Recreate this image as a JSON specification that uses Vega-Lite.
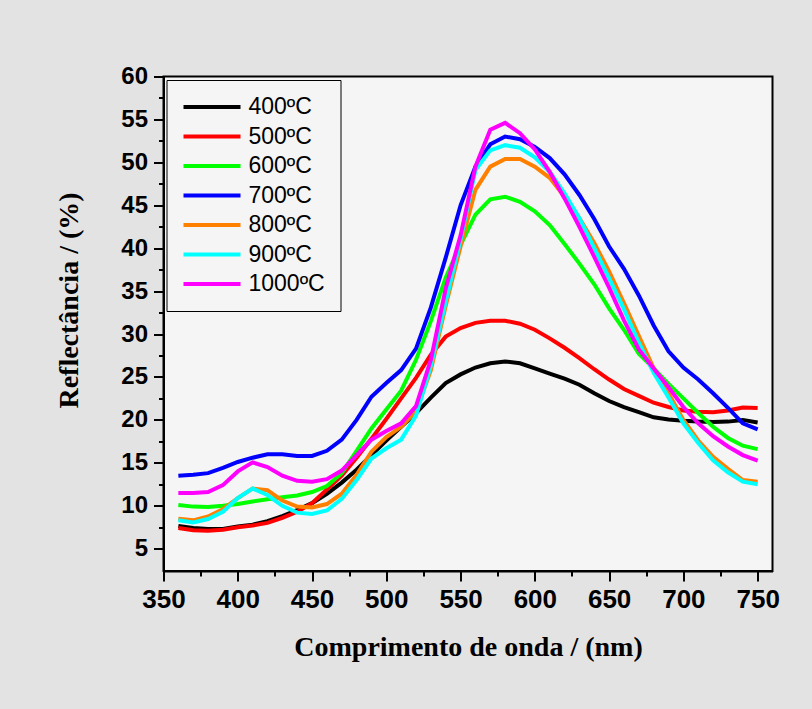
{
  "$schema": "https://vega.github.io/schema/vega-lite/v6.json",
  "autosize": {"type": "none"},
  "padding": {"left": 163.5, "top": 76.5, "right": 39.5, "bottom": 138},
  "width": 609,
  "height": 494.5,
  "background": "#e3e3e3",
  "config": {"view": {"stroke": "black", "strokeWidth": 2, "fill": "#f5f5f5"}},
  "datasets": {
    "d": [
      {"w":360,"t":"400ºC","r":7.65},{"w":370,"t":"400ºC","r":7.4},{"w":380,"t":"400ºC","r":7.3},{"w":390,"t":"400ºC","r":7.3},{"w":400,"t":"400ºC","r":7.6},{"w":410,"t":"400ºC","r":7.8},{"w":420,"t":"400ºC","r":8.2},{"w":430,"t":"400ºC","r":8.8},{"w":440,"t":"400ºC","r":9.5},{"w":450,"t":"400ºC","r":10.3},
      {"w":460,"t":"400ºC","r":11.4},{"w":470,"t":"400ºC","r":12.7},{"w":480,"t":"400ºC","r":14.2},{"w":490,"t":"400ºC","r":15.9},{"w":500,"t":"400ºC","r":17.6},{"w":510,"t":"400ºC","r":19.2},{"w":520,"t":"400ºC","r":20.8},{"w":530,"t":"400ºC","r":22.6},{"w":540,"t":"400ºC","r":24.3},{"w":550,"t":"400ºC","r":25.3},
      {"w":560,"t":"400ºC","r":26.1},{"w":570,"t":"400ºC","r":26.6},{"w":580,"t":"400ºC","r":26.8},{"w":590,"t":"400ºC","r":26.6},{"w":600,"t":"400ºC","r":26.0},{"w":610,"t":"400ºC","r":25.4},{"w":620,"t":"400ºC","r":24.8},{"w":630,"t":"400ºC","r":24.1},{"w":640,"t":"400ºC","r":23.1},{"w":650,"t":"400ºC","r":22.2},
      {"w":660,"t":"400ºC","r":21.5},{"w":670,"t":"400ºC","r":20.9},{"w":680,"t":"400ºC","r":20.3},{"w":690,"t":"400ºC","r":20.05},{"w":700,"t":"400ºC","r":19.9},{"w":710,"t":"400ºC","r":19.8},{"w":720,"t":"400ºC","r":19.75},{"w":730,"t":"400ºC","r":19.8},{"w":740,"t":"400ºC","r":20.0},{"w":750,"t":"400ºC","r":19.7},

      {"w":360,"t":"500ºC","r":7.4},{"w":370,"t":"500ºC","r":7.15},{"w":380,"t":"500ºC","r":7.1},{"w":390,"t":"500ºC","r":7.2},{"w":400,"t":"500ºC","r":7.5},{"w":410,"t":"500ºC","r":7.7},{"w":420,"t":"500ºC","r":8.0},{"w":430,"t":"500ºC","r":8.6},{"w":440,"t":"500ºC","r":9.3},{"w":450,"t":"500ºC","r":10.3},
      {"w":460,"t":"500ºC","r":11.9},{"w":470,"t":"500ºC","r":13.5},{"w":480,"t":"500ºC","r":15.6},{"w":490,"t":"500ºC","r":17.8},{"w":500,"t":"500ºC","r":20.1},{"w":510,"t":"500ºC","r":22.5},{"w":520,"t":"500ºC","r":24.9},{"w":530,"t":"500ºC","r":27.6},{"w":540,"t":"500ºC","r":29.7},{"w":550,"t":"500ºC","r":30.7},
      {"w":560,"t":"500ºC","r":31.3},{"w":570,"t":"500ºC","r":31.55},{"w":580,"t":"500ºC","r":31.55},{"w":590,"t":"500ºC","r":31.2},{"w":600,"t":"500ºC","r":30.5},{"w":610,"t":"500ºC","r":29.5},{"w":620,"t":"500ºC","r":28.4},{"w":630,"t":"500ºC","r":27.2},{"w":640,"t":"500ºC","r":25.9},{"w":650,"t":"500ºC","r":24.7},
      {"w":660,"t":"500ºC","r":23.6},{"w":670,"t":"500ºC","r":22.8},{"w":680,"t":"500ºC","r":22.0},{"w":690,"t":"500ºC","r":21.5},{"w":700,"t":"500ºC","r":21.1},{"w":710,"t":"500ºC","r":20.95},{"w":720,"t":"500ºC","r":20.9},{"w":730,"t":"500ºC","r":21.1},{"w":740,"t":"500ºC","r":21.45},{"w":750,"t":"500ºC","r":21.4},

      {"w":360,"t":"600ºC","r":10.1},{"w":370,"t":"600ºC","r":9.9},{"w":380,"t":"600ºC","r":9.85},{"w":390,"t":"600ºC","r":10.0},{"w":400,"t":"600ºC","r":10.2},{"w":410,"t":"600ºC","r":10.5},{"w":420,"t":"600ºC","r":10.75},{"w":430,"t":"600ºC","r":11.0},{"w":440,"t":"600ºC","r":11.2},{"w":450,"t":"600ºC","r":11.6},
      {"w":460,"t":"600ºC","r":12.3},{"w":470,"t":"600ºC","r":13.8},{"w":480,"t":"600ºC","r":16.4},{"w":490,"t":"600ºC","r":19.0},{"w":500,"t":"600ºC","r":21.2},{"w":510,"t":"600ºC","r":23.4},{"w":520,"t":"600ºC","r":27.0},{"w":530,"t":"600ºC","r":31.5},{"w":540,"t":"600ºC","r":36.6},{"w":550,"t":"600ºC","r":40.4},
      {"w":560,"t":"600ºC","r":43.9},{"w":570,"t":"600ºC","r":45.7},{"w":580,"t":"600ºC","r":46.0},{"w":590,"t":"600ºC","r":45.4},{"w":600,"t":"600ºC","r":44.3},{"w":610,"t":"600ºC","r":42.7},{"w":620,"t":"600ºC","r":40.5},{"w":630,"t":"600ºC","r":38.2},{"w":640,"t":"600ºC","r":35.8},{"w":650,"t":"600ºC","r":33.0},
      {"w":660,"t":"600ºC","r":30.5},{"w":670,"t":"600ºC","r":27.7},{"w":680,"t":"600ºC","r":26.0},{"w":690,"t":"600ºC","r":24.2},{"w":700,"t":"600ºC","r":22.5},{"w":710,"t":"600ºC","r":20.8},{"w":720,"t":"600ºC","r":19.2},{"w":730,"t":"600ºC","r":17.9},{"w":740,"t":"600ºC","r":17.0},{"w":750,"t":"600ºC","r":16.6},

      {"w":360,"t":"700ºC","r":13.5},{"w":370,"t":"700ºC","r":13.6},{"w":380,"t":"700ºC","r":13.8},{"w":390,"t":"700ºC","r":14.4},{"w":400,"t":"700ºC","r":15.1},{"w":410,"t":"700ºC","r":15.6},{"w":420,"t":"700ºC","r":16.0},{"w":430,"t":"700ºC","r":16.0},{"w":440,"t":"700ºC","r":15.8},{"w":450,"t":"700ºC","r":15.8},
      {"w":460,"t":"700ºC","r":16.4},{"w":470,"t":"700ºC","r":17.7},{"w":480,"t":"700ºC","r":20.0},{"w":490,"t":"700ºC","r":22.7},{"w":500,"t":"700ºC","r":24.3},{"w":510,"t":"700ºC","r":25.8},{"w":520,"t":"700ºC","r":28.3},{"w":530,"t":"700ºC","r":33.1},{"w":540,"t":"700ºC","r":38.9},{"w":550,"t":"700ºC","r":45.0},
      {"w":560,"t":"700ºC","r":49.5},{"w":570,"t":"700ºC","r":52.1},{"w":580,"t":"700ºC","r":53.0},{"w":590,"t":"700ºC","r":52.7},{"w":600,"t":"700ºC","r":51.8},{"w":610,"t":"700ºC","r":50.5},{"w":620,"t":"700ºC","r":48.6},{"w":630,"t":"700ºC","r":46.2},{"w":640,"t":"700ºC","r":43.4},{"w":650,"t":"700ºC","r":40.2},
      {"w":660,"t":"700ºC","r":37.6},{"w":670,"t":"700ºC","r":34.5},{"w":680,"t":"700ºC","r":31.0},{"w":690,"t":"700ºC","r":28.0},{"w":700,"t":"700ºC","r":26.1},{"w":710,"t":"700ºC","r":24.7},{"w":720,"t":"700ºC","r":23.1},{"w":730,"t":"700ºC","r":21.4},{"w":740,"t":"700ºC","r":19.6},{"w":750,"t":"700ºC","r":18.9},

      {"w":360,"t":"800ºC","r":8.5},{"w":370,"t":"800ºC","r":8.3},{"w":380,"t":"800ºC","r":8.75},{"w":390,"t":"800ºC","r":9.6},{"w":400,"t":"800ºC","r":10.9},{"w":410,"t":"800ºC","r":12.0},{"w":420,"t":"800ºC","r":11.8},{"w":430,"t":"800ºC","r":10.6},{"w":440,"t":"800ºC","r":9.9},{"w":450,"t":"800ºC","r":9.8},
      {"w":460,"t":"800ºC","r":10.2},{"w":470,"t":"800ºC","r":11.4},{"w":480,"t":"800ºC","r":13.6},{"w":490,"t":"800ºC","r":16.3},{"w":500,"t":"800ºC","r":18.0},{"w":510,"t":"800ºC","r":19.2},{"w":520,"t":"800ºC","r":21.0},{"w":530,"t":"800ºC","r":25.8},{"w":540,"t":"800ºC","r":33.3},{"w":550,"t":"800ºC","r":40.2},
      {"w":560,"t":"800ºC","r":46.8},{"w":570,"t":"800ºC","r":49.5},{"w":580,"t":"800ºC","r":50.4},{"w":590,"t":"800ºC","r":50.4},{"w":600,"t":"800ºC","r":49.5},{"w":610,"t":"800ºC","r":48.2},{"w":620,"t":"800ºC","r":46.0},{"w":630,"t":"800ºC","r":43.5},{"w":640,"t":"800ºC","r":40.6},{"w":650,"t":"800ºC","r":37.3},
      {"w":660,"t":"800ºC","r":33.6},{"w":670,"t":"800ºC","r":29.8},{"w":680,"t":"800ºC","r":26.0},{"w":690,"t":"800ºC","r":23.1},{"w":700,"t":"800ºC","r":20.0},{"w":710,"t":"800ºC","r":17.6},{"w":720,"t":"800ºC","r":15.7},{"w":730,"t":"800ºC","r":14.3},{"w":740,"t":"800ºC","r":13.0},{"w":750,"t":"800ºC","r":12.8},

      {"w":360,"t":"900ºC","r":8.3},{"w":370,"t":"900ºC","r":8.05},{"w":380,"t":"900ºC","r":8.45},{"w":390,"t":"900ºC","r":9.3},{"w":400,"t":"900ºC","r":10.9},{"w":410,"t":"900ºC","r":12.0},{"w":420,"t":"900ºC","r":11.25},{"w":430,"t":"900ºC","r":10.0},{"w":440,"t":"900ºC","r":9.2},{"w":450,"t":"900ºC","r":9.05},
      {"w":460,"t":"900ºC","r":9.45},{"w":470,"t":"900ºC","r":10.8},{"w":480,"t":"900ºC","r":13.0},{"w":490,"t":"900ºC","r":15.5},{"w":500,"t":"900ºC","r":16.7},{"w":510,"t":"900ºC","r":17.7},{"w":520,"t":"900ºC","r":20.5},{"w":530,"t":"900ºC","r":26.3},{"w":540,"t":"900ºC","r":33.8},{"w":550,"t":"900ºC","r":41.0},
      {"w":560,"t":"900ºC","r":49.1},{"w":570,"t":"900ºC","r":51.4},{"w":580,"t":"900ºC","r":52.0},{"w":590,"t":"900ºC","r":51.7},{"w":600,"t":"900ºC","r":50.6},{"w":610,"t":"900ºC","r":48.9},{"w":620,"t":"900ºC","r":46.4},{"w":630,"t":"900ºC","r":43.5},{"w":640,"t":"900ºC","r":40.0},{"w":650,"t":"900ºC","r":36.5},
      {"w":660,"t":"900ºC","r":32.9},{"w":670,"t":"900ºC","r":29.0},{"w":680,"t":"900ºC","r":25.5},{"w":690,"t":"900ºC","r":22.6},{"w":700,"t":"900ºC","r":19.6},{"w":710,"t":"900ºC","r":17.3},{"w":720,"t":"900ºC","r":15.3},{"w":730,"t":"900ºC","r":13.9},{"w":740,"t":"900ºC","r":12.8},{"w":750,"t":"900ºC","r":12.5},

      {"w":360,"t":"1000ºC","r":11.5},{"w":370,"t":"1000ºC","r":11.5},{"w":380,"t":"1000ºC","r":11.6},{"w":390,"t":"1000ºC","r":12.4},{"w":400,"t":"1000ºC","r":14.0},{"w":410,"t":"1000ºC","r":15.05},{"w":420,"t":"1000ºC","r":14.5},{"w":430,"t":"1000ºC","r":13.5},{"w":440,"t":"1000ºC","r":12.9},{"w":450,"t":"1000ºC","r":12.8},
      {"w":460,"t":"1000ºC","r":13.1},{"w":470,"t":"1000ºC","r":14.1},{"w":480,"t":"1000ºC","r":15.9},{"w":490,"t":"1000ºC","r":17.7},{"w":500,"t":"1000ºC","r":18.7},{"w":510,"t":"1000ºC","r":19.6},{"w":520,"t":"1000ºC","r":21.6},{"w":530,"t":"1000ºC","r":27.0},{"w":540,"t":"1000ºC","r":35.3},{"w":550,"t":"1000ºC","r":41.5},
      {"w":560,"t":"1000ºC","r":49.5},{"w":570,"t":"1000ºC","r":53.8},{"w":580,"t":"1000ºC","r":54.6},{"w":590,"t":"1000ºC","r":53.4},{"w":600,"t":"1000ºC","r":51.5},{"w":610,"t":"1000ºC","r":48.9},{"w":620,"t":"1000ºC","r":45.8},{"w":630,"t":"1000ºC","r":42.5},{"w":640,"t":"1000ºC","r":39.0},{"w":650,"t":"1000ºC","r":35.4},
      {"w":660,"t":"1000ºC","r":31.6},{"w":670,"t":"1000ºC","r":28.2},{"w":680,"t":"1000ºC","r":26.0},{"w":690,"t":"1000ºC","r":23.8},{"w":700,"t":"1000ºC","r":21.5},{"w":710,"t":"1000ºC","r":19.6},{"w":720,"t":"1000ºC","r":18.1},{"w":730,"t":"1000ºC","r":16.9},{"w":740,"t":"1000ºC","r":15.9},{"w":750,"t":"1000ºC","r":15.25}
    ]
  },
  "data": {"name": "d"},
  "mark": {"type": "line", "strokeWidth": 4, "clip": true},
  "encoding": {
    "x": {
      "field": "w", "type": "quantitative",
      "scale": {"domain": [350, 760], "nice": false, "zero": false},
      "axis": {
        "title": "Comprimento de onda / (nm)",
        "grid": false,
        "values": [350,375,400,425,450,475,500,525,550,575,600,625,650,675,700,725,750],
        "labelExpr": "datum.value % 50 === 0 ? datum.label : ''",
        "format": "d",
        "tickSize": {"condition": {"test": "datum.value % 50 === 0", "value": 10}, "value": 5},
        "tickWidth": 2, "tickColor": "black",
        "domainColor": "black", "domainWidth": 2,
        "labelFont": "Liberation Sans", "labelFontWeight": "bold", "labelFontSize": 26, "labelColor": "black",
        "labelPadding": 5, "labelFlush": false, "labelOverlap": false,
        "titleFont": "Liberation Serif", "titleFontWeight": "bold", "titleFontSize": 28, "titleColor": "black",
        "titleX": 304.5, "titleY": 84, "titleBaseline": "alphabetic", "titleAlign": "center"
      }
    },
    "y": {
      "field": "r", "type": "quantitative",
      "scale": {"domain": [2.4, 60], "nice": false, "zero": false},
      "axis": {
        "title": "Reflectância / (%)",
        "grid": false,
        "values": [5,7.5,10,12.5,15,17.5,20,22.5,25,27.5,30,32.5,35,37.5,40,42.5,45,47.5,50,52.5,55,57.5,60],
        "labelExpr": "datum.value % 5 === 0 ? datum.label : ''",
        "format": "d",
        "tickSize": {"condition": {"test": "datum.value % 5 === 0", "value": 10}, "value": 5},
        "tickWidth": 2, "tickColor": "black",
        "domainColor": "black", "domainWidth": 2,
        "labelFont": "Liberation Sans", "labelFontWeight": "bold", "labelFontSize": 24, "labelColor": "black",
        "labelPadding": 6, "labelFlush": false, "labelOverlap": false,
        "titleFont": "Liberation Serif", "titleFontWeight": "bold", "titleFontSize": 28, "titleColor": "black",
        "titleX": -86.5, "titleY": 223.5, "titleAngle": -90, "titleBaseline": "alphabetic", "titleAlign": "center"
      }
    },
    "color": {
      "field": "t", "type": "nominal",
      "scale": {
        "domain": ["400ºC","500ºC","600ºC","700ºC","800ºC","900ºC","1000ºC"],
        "range": ["#000000","#ff0000","#00ff00","#0000ff","#ff8000","#00ffff","#ff00ff"]
      },
      "legend": {
        "title": null,
        "orient": "none", "legendX": 3, "legendY": 3.5,
        "strokeColor": "black", "padding": 15,
        "symbolType": "stroke", "symbolSize": 3249, "symbolStrokeWidth": 4,
        "labelFont": "Liberation Sans", "labelFontSize": 23, "labelColor": "black",
        "labelOffset": 6, "rowPadding": 5.5, "clipHeight": 24
      }
    }
  }
}
